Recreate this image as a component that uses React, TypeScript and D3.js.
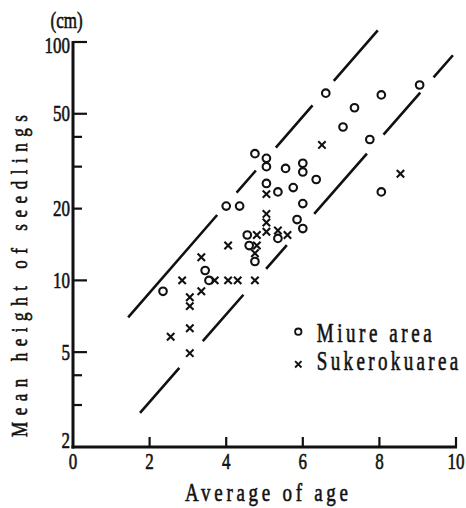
import React from "react";
import * as d3 from "d3";

// Miure area seedlings: average age (years) and mean height (cm)
const miureAge = [6.6, 8.05, 9.05, 7.35, 7.05, 7.75, 4.75, 5.05, 5.05, 5.55, 6.0, 6.0, 6.35, 5.05, 5.35, 5.75, 6.0, 8.05, 4.0, 4.35, 5.85, 6.0, 4.55, 5.35, 4.6, 4.75, 3.45, 3.55, 2.35];
const miureHeight = [61, 60, 66, 53, 44, 39, 34, 32.5, 30, 29.5, 31, 28.5, 26.5, 25.5, 23.5, 24.5, 21, 23.5, 20.5, 20.5, 18, 16.5, 15.5, 15, 14, 12, 11, 10, 9];

// Sukeroku area seedlings
const sukeAge = [6.5, 8.55, 5.05, 5.05, 5.05, 5.05, 5.35, 5.6, 4.8, 4.05, 4.8, 4.75, 3.35, 2.85, 3.7, 4.05, 4.3, 4.75, 3.35, 3.05, 3.05, 3.05, 2.55, 3.05];
const sukeHeight = [37, 28, 23, 19, 17.5, 16, 16.2, 15.5, 15.5, 14, 14, 13, 12.5, 10, 10, 10, 10, 10, 9, 8.5, 7.8, 6.3, 5.8, 4.95];

// Envelope lines (age, height) end points
const upperAge = [1.44, 7.96];
const upperHeight = [7.0, 112];
const lowerAge = [1.75, 9.92];
const lowerHeight = [2.78, 88];

// Axis ticks
const xTicks = [0, 2, 4, 6, 8, 10];
const xTickMarks = [2, 4, 6, 8, 10];
const yTickLabels = [100, 50, 20, 10, 5, 2];
const yMajorTicks = [100, 50, 10, 5];
const yMinorTicks = [40, 30, 20, 4, 3];

const W = 466;
const H = 508;
const FONT = "'Liberation Serif', 'Times New Roman', serif";
const INK = "#111";

const x = d3.scaleLinear().domain([0, 10]).range([73, 456]);
const y = d3.scaleLog().domain([2, 100]).range([447, 42]);

const lineGen = d3
  .line<[number, number]>()
  .x((d) => x(d[0]))
  .y((d) => y(d[1]));

type TxtProps = {
  x: number;
  y: number;
  size: number;
  sy?: number;
  anchor?: "start" | "middle" | "end";
  len?: number;
  rotate?: number;
  children: React.ReactNode;
};

// Serif text, stretched vertically and slightly emboldened with a thin outline
function Txt({ x, y, size, sy = 1.35, anchor = "start", len, rotate, children }: TxtProps) {
  const t = `translate(${x},${y})` + (rotate ? ` rotate(${rotate})` : "") + ` scale(1,${sy})`;
  return (
    <text
      transform={t}
      fontSize={size}
      fontFamily={FONT}
      textAnchor={anchor}
      textLength={len}
      lengthAdjust={len ? "spacing" : undefined}
      fill={INK}
      stroke={INK}
      strokeWidth={0.45}
    >
      {children}
    </text>
  );
}

function Circle({ cx, cy, r, sw }: { cx: number; cy: number; r: number; sw: number }) {
  return <circle cx={cx} cy={cy} r={r} fill="none" stroke={INK} strokeWidth={sw} />;
}

function Cross({ cx, cy, s, sw }: { cx: number; cy: number; s: number; sw: number }) {
  return (
    <path
      d={`M${cx - s},${cy - s}L${cx + s},${cy + s}M${cx - s},${cy + s}L${cx + s},${cy - s}`}
      stroke={INK}
      strokeWidth={sw}
      fill="none"
    />
  );
}

export default function App() {
  const upper: [number, number][] = upperAge.map((a, i) => [a, upperHeight[i]]);
  const lower: [number, number][] = lowerAge.map((a, i) => [a, lowerHeight[i]]);
  const yLabelShift = (v: number) => (v === 100 ? 3 : v === 2 ? -7 : 0);

  return (
    <svg
      width={W}
      height={H}
      viewBox={`0 0 ${W} ${H}`}
      style={{ position: "absolute", left: 0, top: 0, background: "#fff" }}
    >
      <rect width={W} height={H} fill="#fff" />

      {/* envelope lines */}
      <path
        d={lineGen(upper) || ""}
        stroke={INK}
        strokeWidth={2.6}
        fill="none"
        strokeDasharray="135.6 29.6 29.4 30.4 55.9 32.4 67 40"
      />
      <path
        d={lineGen(lower) || ""}
        stroke={INK}
        strokeWidth={2.6}
        fill="none"
        strokeDasharray="59.7 35.6 61.7 34.5 31.5 41.5 80.1 25.2 55.8 20.2 29.7 40"
      />

      {/* axes */}
      <line x1={x(0)} x2={x(0)} y1={y(100) - 1} y2={y(2) + 1.5} stroke={INK} strokeWidth={3} />
      <line x1={x(0) - 1.5} x2={x(10) + 1} y1={y(2)} y2={y(2)} stroke={INK} strokeWidth={3} />
      {yMajorTicks.map((v) => (
        <line key={"M" + v} x1={x(0)} x2={x(0) + 14} y1={y(v)} y2={y(v)} stroke={INK} strokeWidth={2.2} />
      ))}
      {yMinorTicks.map((v) => (
        <line key={"m" + v} x1={x(0)} x2={x(0) + 9} y1={y(v)} y2={y(v)} stroke={INK} strokeWidth={2.2} />
      ))}
      {xTickMarks.map((v) => (
        <line key={"x" + v} x1={x(v)} x2={x(v)} y1={y(2)} y2={y(2) - 10} stroke={INK} strokeWidth={2.2} />
      ))}

      {/* tick labels */}
      {yTickLabels.map((v) => (
        <Txt key={"yl" + v} x={70} y={y(v) + 7.7 + yLabelShift(v)} size={17} anchor="end">
          {String(v)}
        </Txt>
      ))}
      {xTicks.map((v) => (
        <Txt key={"xl" + v} x={x(v)} y={469} size={17} sy={1.4} anchor="middle">
          {String(v)}
        </Txt>
      ))}
      <Txt x={66.5} y={28} size={17} anchor="middle">
        (cm)
      </Txt>

      {/* axis titles */}
      <Txt x={266.5} y={501} size={19} sy={1.32} anchor="middle" len={163}>
        Average of age
      </Txt>
      <Txt x={26.5} y={276} size={17} anchor="middle" len={322} rotate={-90}>
        Mean height of seedlings
      </Txt>

      {/* data points */}
      {miureAge.map((a, i) => (
        <Circle key={"c" + i} cx={x(a)} cy={y(miureHeight[i])} r={3.8} sw={2.1} />
      ))}
      {sukeAge.map((a, i) => (
        <Cross key={"k" + i} cx={x(a)} cy={y(sukeHeight[i])} s={3.7} sw={2.1} />
      ))}

      {/* legend */}
      <Circle cx={298.3} cy={331.7} r={3.2} sw={1.8} />
      <Txt x={316.7} y={342.3} size={19} sy={1.4} len={115}>
        Miure area
      </Txt>
      <Cross cx={298.3} cy={364.3} s={3.2} sw={1.9} />
      <Txt x={316.7} y={370} size={19} sy={1.4} len={141.6}>
        Sukerokuarea
      </Txt>
    </svg>
  );
}
